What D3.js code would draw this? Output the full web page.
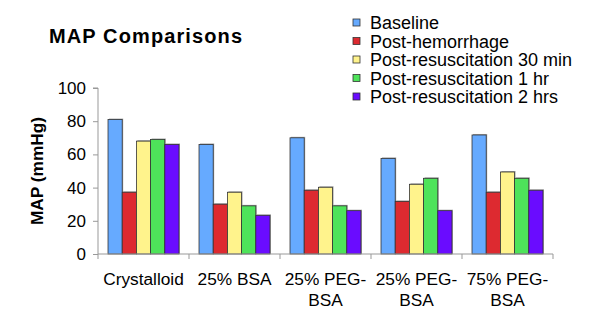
<!DOCTYPE html>
<html><head><meta charset="utf-8">
<script src="https://cdn.jsdelivr.net/npm/d3@7"></script>
<style>body{margin:0;background:#fff}svg{display:block;font-family:Arial,"Liberation Sans",sans-serif}</style>
</head><body><svg id="c" width="589" height="324"></svg>
<script>
const categories = ["Crystalloid", "25% BSA", "25% PEG-BSA", "25% PEG-BSA", "75% PEG-BSA"];
const seriesNames = ["Baseline", "Post-hemorrhage", "Post-resuscitation 30 min", "Post-resuscitation 1 hr", "Post-resuscitation 2 hrs"];
const baseline = [81, 66, 70, 57.6, 71.7];
const postHemorrhage = [37.2, 30, 38.4, 31.7, 37.2];
const postResus30 = [68, 37.2, 40.2, 42, 49.4];
const postResus1h = [69, 29, 29, 45.6, 45.6];
const postResus2h = [66, 23.3, 26.1, 26.1, 38.4];
const yTicks = [0, 20, 40, 60, 80, 100];
const colors = ["#66aaff", "#dd2a30", "#fff38c", "#4ee35a", "#6a0cff"];

const series = [baseline, postHemorrhage, postResus30, postResus1h, postResus2h];
const svg = d3.select("#c");
const x0 = d3.scaleBand().domain(d3.range(categories.length)).range([98, 553]).paddingInner(0.22).paddingOuter(0.11);
const x1 = d3.scaleBand().domain(d3.range(series.length)).range([0, x0.bandwidth()]);
const y = d3.scaleLinear().domain([0, 100]).range([254, 88]);

// title
svg.append("text").attr("x", 49).attr("y", 43).attr("font-weight", "bold").attr("font-size", 20)
  .attr("textLength", 193).attr("lengthAdjust", "spacing").text("MAP Comparisons");

// bars (shadow + bar)
const g = svg.append("g");
categories.forEach((c, i) => {
  series.forEach((s, j) => {
    const xx = x0(i) + x1(j), w = x1.bandwidth();
    g.append("rect").attr("x", xx + 1).attr("y", y(s[i]) - 1).attr("width", w).attr("height", y(0) - y(s[i]) + 1)
      .attr("fill", "#aaa");
  });
  series.forEach((s, j) => {
    const xx = x0(i) + x1(j), w = x1.bandwidth();
    g.append("rect").attr("x", xx).attr("y", y(s[i])).attr("width", w).attr("height", y(0) - y(s[i]))
      .attr("fill", colors[j]).attr("stroke", "#333").attr("stroke-width", 0.8);
  });
});

// y axis
const ya = svg.append("g").attr("transform", "translate(98,0)")
  .call(d3.axisLeft(y).tickValues(yTicks).tickSize(5).tickPadding(7));
ya.select(".domain").attr("stroke", "#999").attr("d", "M-5," + y(100) + "H0V" + y(0));
ya.selectAll(".tick line").attr("stroke", "#999");
ya.selectAll(".tick text").attr("font-size", 17).attr("fill", "#000").attr("font-family", "Arial,'Liberation Sans',sans-serif");

// x axis
const xa = svg.append("g").attr("transform", "translate(0,254)");
xa.append("line").attr("x1", 98).attr("x2", 553).attr("stroke", "#999");
const bounds = d3.range(categories.length + 1).map(i => 98 + i * x0.step());
xa.selectAll(".xt").data(bounds).enter().append("line")
  .attr("x1", d => d).attr("x2", d => d).attr("y1", 0).attr("y2", 5).attr("stroke", "#999");
categories.forEach((c, i) => {
  const lines = c.includes("PEG-") ? [c.slice(0, c.indexOf("PEG-") + 4), c.slice(c.indexOf("PEG-") + 4)] : [c];
  const t = xa.append("text").attr("x", x0(i) + x0.bandwidth() / 2).attr("y", 31)
    .attr("text-anchor", "middle").attr("font-size", 17.3);
  lines.forEach((l, k) => t.append("tspan").attr("x", x0(i) + x0.bandwidth() / 2).attr("dy", k ? 21 : 0).text(l));
});

// y label
svg.append("text").attr("transform", "translate(43,171) rotate(-90)").attr("text-anchor", "middle")
  .attr("font-weight", "bold").attr("font-size", 17.3).text("MAP (mmHg)");

// legend
const lg = svg.append("g");
seriesNames.forEach((n, j) => {
  const yy = 23 + j * 18.5;
  lg.append("rect").attr("x", 353).attr("y", yy - 4).attr("width", 7).attr("height", 7)
    .attr("fill", colors[j]).attr("stroke", "#333").attr("stroke-width", 0.8);
  lg.append("text").attr("x", 370).attr("y", yy + 6).attr("font-size", 18).text(n);
});
</script></body></html>
